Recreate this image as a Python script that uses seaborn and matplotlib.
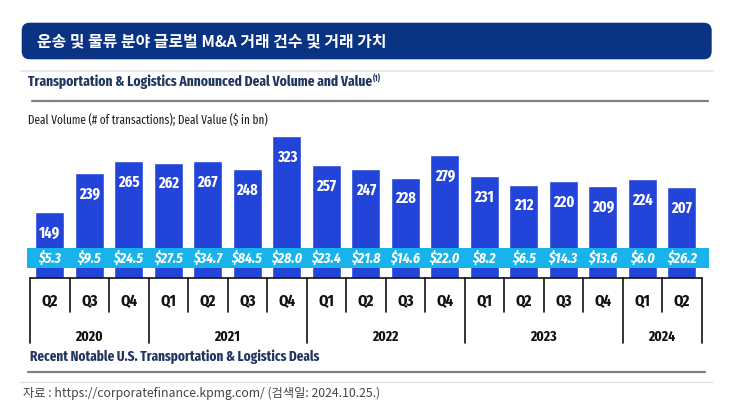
import matplotlib
matplotlib.use("Agg")
import matplotlib.pyplot as plt
import matplotlib.transforms as mtransforms
from matplotlib.patches import Rectangle, FancyBboxPatch
from matplotlib.lines import Line2D
import seaborn as sns
import pandas as pd

# ---------------- data ----------------
years = ["2020", "2020", "2020",
         "2021", "2021", "2021", "2021",
         "2022", "2022", "2022", "2022",
         "2023", "2023", "2023", "2023",
         "2024", "2024"]
quarters = ["Q2", "Q3", "Q4",
            "Q1", "Q2", "Q3", "Q4",
            "Q1", "Q2", "Q3", "Q4",
            "Q1", "Q2", "Q3", "Q4",
            "Q1", "Q2"]
deal_volume = [149, 239, 265, 262, 267, 248, 323, 257, 247, 228, 279,
               231, 212, 220, 209, 224, 207]
deal_value = [5.3, 9.5, 24.5, 27.5, 34.7, 84.5, 28.0, 23.4, 21.8, 14.6, 22.0,
              8.2, 6.5, 14.3, 13.6, 6.0, 26.2]

title_kr = "운송 및 물류 분야 글로벌 M&A 거래 건수 및 거래 가치"
subtitle = "Transportation & Logistics Announced Deal Volume and Value"
unit_note = "Deal Volume (# of transactions); Deal Value ($ in bn)"
footer_title = "Recent Notable U.S. Transportation & Logistics Deals"
source = "자료 : https://corporatefinance.kpmg.com/ (검색일: 2024.10.25.)"

df = pd.DataFrame({"period": [f"{y} {q}" for y, q in zip(years, quarters)],
                   "year": years, "quarter": quarters,
                   "volume": deal_volume, "value": deal_value})

# ---------------- style ----------------
W, H = 747, 415
BAR = "#2344d8"
CYAN = "#17b3ea"
NAVY = "#0b3384"
TXTNAVY = "#1f3560"
NARROW = ["Fira Sans Extra Condensed", "Roboto Condensed", "Barlow Condensed",
          "Cabin Condensed", "DejaVu Sans"]
KR = ["Noto Sans CJK KR", "DejaVu Sans"]

sns.set_theme(style="white")
plt.rcParams["font.family"] = NARROW

fig = plt.figure(figsize=(W / 100, H / 100), dpi=100)
fig.patch.set_facecolor("white")
renderer = fig.canvas.get_renderer()

def fx(px):
    return px / W

def fy(py):
    return 1 - py / H

def fit_size(s, target_w, **kw):
    t = fig.text(0, 0, s, fontsize=10, **kw)
    w = t.get_window_extent(renderer).width
    t.remove()
    return 10 * target_w / w

# bar axes geometry (pixels)
base_y = 277.7
px_per_unit = 0.4387
ymax = 340
ax_left, ax_right = 30, 701.7
ax = fig.add_axes([fx(ax_left), fy(base_y), (ax_right - ax_left) / W,
                   ymax * px_per_unit / H])
sns.barplot(data=df, x="period", y="volume", color=BAR, saturation=1,
            width=0.734, ax=ax, order=list(df["period"]))
ax.set_xlim(-0.5, len(df) - 0.5)
ax.set_ylim(0, ymax)
ax.set_axis_off()

blend = mtransforms.blended_transform_factory(ax.transData, fig.transFigure)

# volume labels inside bar tops
vol_fs = fit_size("323", 20.5, fontweight="bold")
for i, v in enumerate(df["volume"]):
    ax.annotate(str(v), (i, v), xytext=(0, -21), textcoords="offset pixels",
                ha="center", va="center", color="white", fontsize=vol_fs,
                fontweight="bold", zorder=5)

# cyan value band
band = Rectangle((fx(27), fy(268.3)), fx(709) - fx(27), (268.3 - 247.7) / H,
                 transform=fig.transFigure, facecolor=CYAN, edgecolor="none",
                 clip_on=False, zorder=4)
ax.add_patch(band)
val_fs = fit_size("$24.5", 30, fontweight="bold", fontstyle="italic")
for i, v in enumerate(df["value"]):
    ax.text(i, fy(258.3), f"${v:.1f}", transform=blend, ha="center",
            va="center", color="white", fontsize=val_fs, fontstyle="italic",
            fontweight="bold", zorder=6, clip_on=False)

# category axis
n = len(df)
line_kw = dict(color="#111111", lw=1.2, transform=blend, clip_on=False)
fig.add_artist(Line2D([-0.5, n - 0.5], [fy(base_y), fy(base_y)], **line_kw))
year_order = list(dict.fromkeys(years))
starts = [years.index(y) for y in year_order]
for i in range(n + 1):
    long_tick = (i in starts) or i == n
    yb = 343.3 if long_tick else 311.7
    fig.add_artist(Line2D([i - 0.5, i - 0.5], [fy(base_y), fy(yb)], **line_kw))
q_fs = fit_size("Q2", 16, fontweight="bold")
for i, q in enumerate(quarters):
    fig.text(i, fy(301.7), q, transform=blend, ha="center", va="center",
             fontsize=q_fs, fontweight="bold", color="#111111")
y_fs = fit_size("2020", 27.5, fontweight="bold")
for y in year_order:
    idx = [i for i, yy in enumerate(years) if yy == y]
    fig.text((idx[0] + idx[-1]) / 2, fy(337.3), y, transform=blend,
             ha="center", va="center", fontsize=y_fs, fontweight="bold",
             color="#111111")

# header banner
banner = FancyBboxPatch((21.7 / 100, (H - 59.3) / 100), (711.7 - 21.7) / 100,
                        (59.3 - 22.7) / 100,
                        boxstyle="round,pad=0,rounding_size=0.08",
                        transform=fig.dpi_scale_trans, facecolor=NAVY,
                        edgecolor="none")
fig.add_artist(banner)
t_fs = fit_size(title_kr, 348, fontweight="bold", family=KR)
fig.text(fx(36.7), fy(41.7), title_kr, ha="left", va="center", color="white",
         fontsize=t_fs, fontweight="bold", family=KR)

fig.add_artist(Line2D([fx(21), fx(712.7)], [fy(70.7), fy(70.7)],
                      color="#e3e3e3", lw=1.2, transform=fig.transFigure))
s_fs = fit_size(subtitle, 345, fontweight="bold")
sub = fig.text(fx(28.3), fy(82), subtitle, ha="left", va="center",
               color=TXTNAVY, fontsize=s_fs, fontweight="bold")
bb = sub.get_window_extent(renderer)
fig.text((bb.x1 + 0.8) / W, fy(78.5), "(1)", ha="left", va="center",
         color=TXTNAVY, fontsize=s_fs * 0.55, fontweight="bold")
fig.add_artist(Line2D([fx(31.7), fx(708)], [fy(100.7), fy(100.7)],
                      color="#7f7f7f", lw=1.6, transform=fig.transFigure))
u_fs = fit_size(unit_note, 240)
fig.text(fx(28.3), fy(120), unit_note, ha="left", va="center",
         color="#222222", fontsize=u_fs)

# footer
f_fs = fit_size(footer_title, 290, fontweight="bold")
fig.text(fx(30), fy(357), footer_title, ha="left", va="center",
         color=TXTNAVY, fontsize=f_fs, fontweight="bold")
fig.add_artist(Line2D([fx(28), fx(705)], [fy(371.7), fy(371.7)],
                      color="#7f7f7f", lw=1.6, transform=fig.transFigure))
fig.add_artist(Line2D([fx(20), fx(713)], [fy(381.7), fy(381.7)],
                      color="#e3e3e3", lw=1.0, transform=fig.transFigure))
src_fs = fit_size(source, 359, family=KR)
fig.text(fx(23), fy(393.5), source, ha="left", va="center", color="#444444",
         fontsize=src_fs, family=KR)

fig.savefig("out.png", dpi=100)
